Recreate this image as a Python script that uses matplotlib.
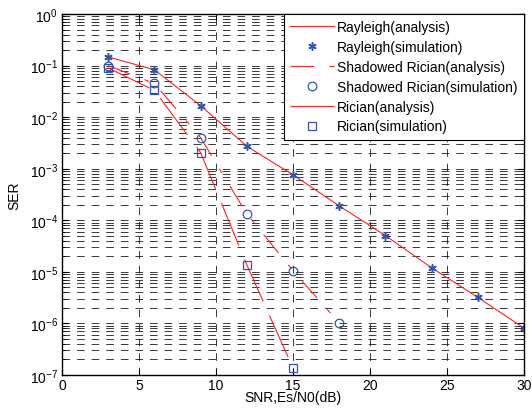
import matplotlib
matplotlib.use("Agg")
import matplotlib.pyplot as plt
from matplotlib.ticker import FixedLocator, NullFormatter, LogFormatterSciNotation

plt.rcParams['font.family'] = ['Liberation Sans', 'DejaVu Sans']
plt.rcParams['lines.scale_dashes'] = False

# ---- data ----
snr_ray = [3, 6, 9, 12, 15, 18, 21, 24, 27, 30]
ser_ray_ana = [0.147, 0.083, 0.0167, 0.00273, 7.6e-4, 1.9e-4, 5.06e-5, 1.2e-5, 3.2e-6, 8.1e-7]
ser_ray_sim = [0.147, 0.083, 0.0167, 0.00273, 7.6e-4, 1.9e-4, 5.06e-5, 1.2e-5, 3.2e-6, 8.1e-7]

snr_sr = [3, 6, 9, 12, 15, 18]
ser_sr_ana = [0.100, 0.045, 0.0040, 1.33e-4, 1.05e-5, 1.02e-6]
ser_sr_sim = [0.100, 0.045, 0.0040, 1.33e-4, 1.05e-5, 1.02e-6]

snr_ric = [3, 6, 9, 12, 15]
ser_ric_ana = [0.090, 0.033, 0.00205, 1.37e-5, 1.36e-7]
ser_ric_sim = [0.090, 0.033, 0.00205, 1.37e-5, 1.36e-7]

labels = ['Rayleigh(analysis)', 'Rayleigh(simulation)',
          'Shadowed Rician(analysis)', 'Shadowed Rician(simulation)',
          'Rician(analysis)', 'Rician(simulation)']
xticks = [0, 5, 10, 15, 20, 25, 30]
yexps = [-7, -6, -5, -4, -3, -2, -1, 0]

red = '#FF2020'
blue = '#3352B5'

fig = plt.figure(figsize=(5.32, 4.14), dpi=100)
ax = fig.add_axes([0.1165, 0.0918, 0.8685, 0.872])

ax.set_yscale('log')
ax.set_xlim(0, 30)
ax.set_ylim(1e-7, 1)

ax.plot(snr_ray, ser_ray_ana, '-', color=red, lw=0.8, label=labels[0])
ax.plot(snr_ray, ser_ray_sim, linestyle='none', marker=(6, 2, 0), ms=6,
        mec=blue, mew=1.1, label=labels[1])
ax.plot(snr_sr, ser_sr_ana, color=red, lw=0.8, linestyle=(0, (17, 11, 3.6, 11)),
        label=labels[2])
ax.plot(snr_sr, ser_sr_sim, linestyle='none', marker='o', ms=6.2, mfc='none',
        mec=blue, mew=0.9, label=labels[3])
ax.plot(snr_ric, ser_ric_ana, color=red, lw=0.8, linestyle=(0, (33, 11)),
        label=labels[4])
ax.plot(snr_ric, ser_ric_sim, linestyle='none', marker='s', ms=6, mfc='none',
        mec=blue, mew=0.9, label=labels[5])

ax.xaxis.set_major_locator(FixedLocator(xticks))
major_y = [10.0 ** e for e in yexps]
minor_y = [m * 10.0 ** e for e in yexps[:-1] for m in range(2, 10)]
ax.yaxis.set_major_locator(FixedLocator(major_y))
ax.yaxis.set_major_formatter(LogFormatterSciNotation())
ax.yaxis.set_minor_locator(FixedLocator(minor_y))
ax.yaxis.set_minor_formatter(NullFormatter())

grid_kw = dict(color='#1a1a1a', lw=0.6, linestyle=(0, (5.5, 5)))
ax.grid(True, which='major', axis='both', **grid_kw)
ax.grid(True, which='minor', axis='y', **grid_kw)
ax.set_axisbelow(True)

ax.tick_params(which='both', direction='in', top=True, right=True, labelsize=10)
ax.tick_params(which='major', length=4)
ax.tick_params(axis='x', which='major', pad=2)
ax.tick_params(axis='y', which='major', pad=3)
ax.tick_params(which='minor', length=2)
for s in ax.spines.values():
    s.set_linewidth(1.0)

ax.set_xlabel('SNR,Es/N0(dB)', fontsize=10, labelpad=-1)
ax.set_ylabel('SER', fontsize=10, labelpad=6)

leg = ax.legend(loc='upper right', fontsize=10, frameon=True, fancybox=False,
                edgecolor='black', framealpha=1, borderaxespad=0,
                handlelength=3.2, handletextpad=0.2, labelspacing=0.42,
                borderpad=0.45)
leg.get_frame().set_linewidth(0.8)

fig.savefig('out.png', dpi=100)
